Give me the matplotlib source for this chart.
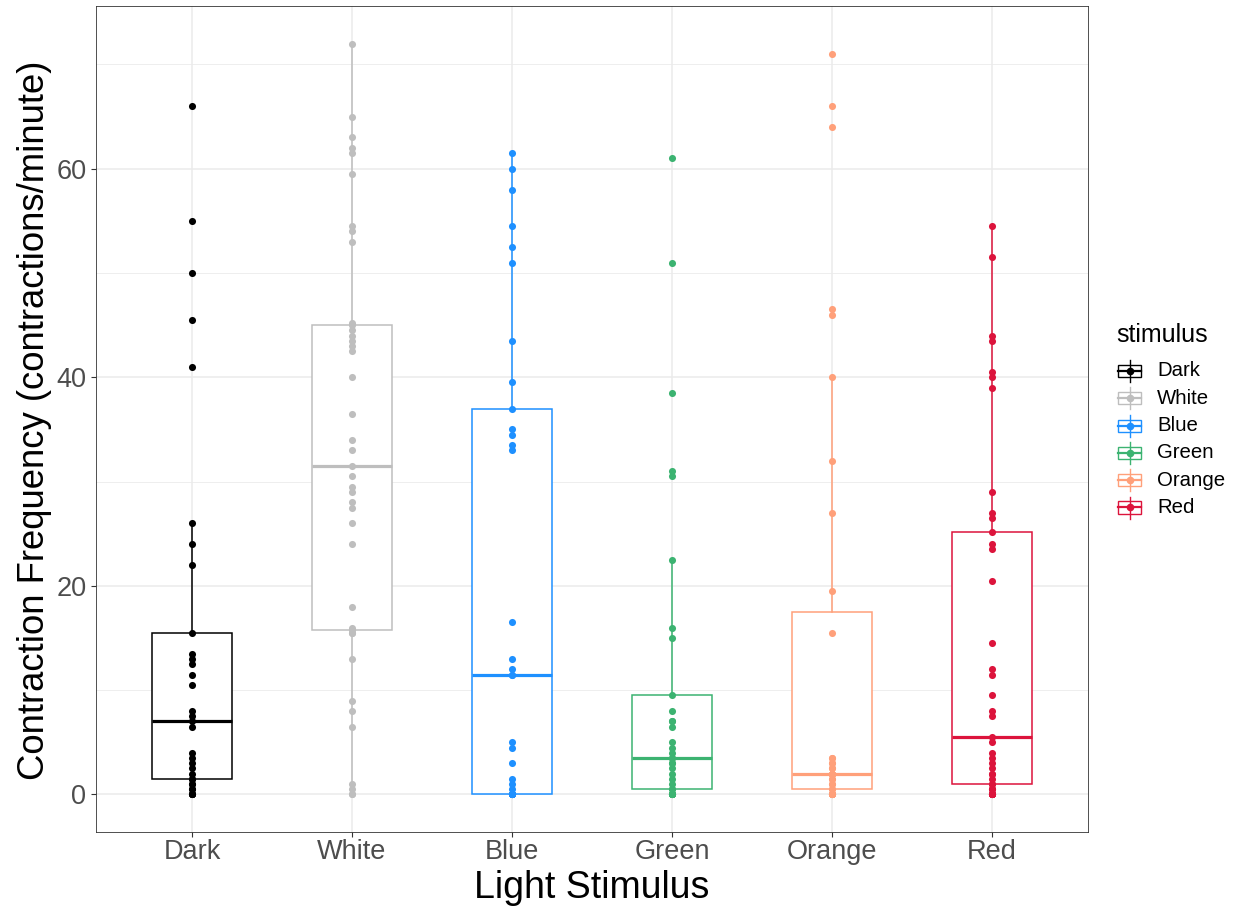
import matplotlib
matplotlib.use("Agg")
import matplotlib.pyplot as plt
from matplotlib.patches import Rectangle
from matplotlib.lines import Line2D

plt.rcParams['font.family'] = ['Liberation Sans', 'DejaVu Sans']

categories = ["Dark", "White", "Blue", "Green", "Orange", "Red"]
colors = ["#000000", "#BEBEBE", "#1E90FF", "#3CB371", "#FFA07A", "#DC143C"]

dark = [0, 0, 0, 0, 0.5, 0.5, 1, 1, 1.5, 1.5, 2, 2.5, 3, 3.5, 4, 6.5, 7,
        7.5, 8, 10.5, 11.5, 12.5, 13, 13.5, 15.5, 22, 24, 26, 41, 45.5, 50, 55, 66]
white = [0, 0, 0.5, 1, 6.5, 8, 9, 13, 15.5, 15.5, 15.8, 16, 18, 24, 26, 27.5, 28,
         29, 29.5, 30.5, 31.5, 33, 34, 36.5, 40, 42.5, 43, 43.5, 44, 44.5, 45, 45.2,
         53, 54, 54.5, 59.5, 61.5, 62, 63, 65, 72]
blue = [0, 0, 0, 0, 0, 0, 0, 0, 0, 0.5, 1, 1.5, 3, 4.5, 5, 11.5, 11.5, 12, 13,
        16.5, 33, 33.5, 34.5, 35, 37, 39.5, 43.5, 51, 52.5, 54.5, 58, 60, 61.5]
green = [0, 0, 0, 0, 0, 0, 0, 0.5, 0.5, 1, 1.5, 2, 2.5, 3, 3, 3.5, 3.5, 4, 4.5,
         5, 6.5, 7, 7, 8, 9.5, 15, 16, 22.5, 30.5, 31, 38.5, 51, 61]
orange = [0, 0, 0, 0, 0, 0, 0, 0, 0.5, 0.5, 1, 1, 1.5, 1.5, 2, 2, 2, 2, 2, 2.5,
          2.5, 3, 3, 3.5, 3.5, 15.5, 19.5, 27, 32, 40, 46, 46.5, 64, 66, 71]
red = [0, 0, 0, 0, 0, 0, 0, 0.5, 0.5, 0.5, 1, 1, 1.5, 2, 2, 2.5, 3, 3.5, 4, 5,
       5.5, 7.5, 8, 9.5, 11.5, 12, 14.5, 20.5, 23.5, 24, 25.2, 26.5, 27, 29, 39,
       40, 40.5, 43.5, 44, 51.5, 54.5]

data = [dark, white, blue, green, orange, red]
y_ticks = [0, 20, 40, 60]
y_minor = [10, 30, 50, 70]

W, H = 1238, 909
fig = plt.figure(figsize=(W / 100, H / 100), dpi=100)
ax = fig.add_axes([96 / W, 1 - 832 / H, (1088 - 96) / W, (832 - 6) / H])
ax.set_facecolor("white")

pos = list(range(1, len(categories) + 1))
bp = ax.boxplot(data, positions=pos, widths=0.5, showfliers=False,
                showcaps=False, patch_artist=True, whis=1.5, zorder=3)
for i, c in enumerate(colors):
    bp['boxes'][i].set(facecolor="white", edgecolor=c, linewidth=1.1)
    bp['medians'][i].set(color=c, linewidth=2.3, solid_capstyle='butt')
    for w in bp['whiskers'][2 * i:2 * i + 2]:
        w.set(color=c, linewidth=1.1)

for i, (vals, c) in enumerate(zip(data, colors)):
    ax.scatter([pos[i]] * len(vals), vals, s=26, color=c, zorder=5,
               linewidths=0)

ax.set_xlim(0.4, 6.6)
ax.set_ylim(-3.6, 75.6)
ax.set_xticks(pos)
ax.set_xticklabels(categories)
ax.set_yticks(y_ticks)
ax.set_yticks(y_minor, minor=True)
ax.grid(which='major', color="#EBEBEB", linewidth=1.1)
ax.grid(which='minor', axis='y', color="#EBEBEB", linewidth=0.6)
ax.set_axisbelow(True)
ax.tick_params(which='minor', length=0)
ax.tick_params(axis='both', which='major', length=3.5, width=0.8,
               color="#333333", labelcolor="#4D4D4D", labelsize=19.5)
ax.tick_params(axis='x', pad=1.5)
ax.tick_params(axis='y', pad=3.5)
for s in ax.spines.values():
    s.set_color("#333333")
    s.set_linewidth(0.6)

fig.text(592 / W, 1 - 888 / H, "Light Stimulus", ha='center', va='center',
         fontsize=27)
fig.text(35 / W, 1 - 420 / H, "Contraction Frequency (contractions/minute)",
         ha='center', va='center', rotation=90, fontsize=26.3)

# legend
def fx(px):
    return px / W

def fy(py):
    return 1 - py / H

fig.text(fx(1116), fy(342), "stimulus", ha='left', va='baseline', fontsize=18)
for i, (name, c) in enumerate(zip(categories, colors)):
    yc = 371 + i * 27.3
    x0, x1 = 1118, 1141
    xc = (x0 + x1) / 2
    fig.add_artist(Line2D([fx(xc), fx(xc)], [fy(yc - 11), fy(yc + 11)],
                          color=c, linewidth=1.0, transform=fig.transFigure))
    fig.add_artist(Rectangle((fx(x0), fy(yc + 6)), fx(x1) - fx(x0),
                             fy(yc - 6) - fy(yc + 6), facecolor='white',
                             edgecolor=c, linewidth=1.0,
                             transform=fig.transFigure))
    fig.add_artist(Line2D([fx(x0), fx(x1)], [fy(yc), fy(yc)], color=c,
                          linewidth=1.6, transform=fig.transFigure))
    fig.add_artist(Line2D([fx(xc)], [fy(yc)], marker='o', markersize=5.5,
                          color=c, markeredgewidth=0,
                          transform=fig.transFigure))
    fig.text(fx(1157), fy(yc), name, ha='left', va='center', fontsize=14.7)

fig.savefig("out.png", dpi=100, facecolor="white")
